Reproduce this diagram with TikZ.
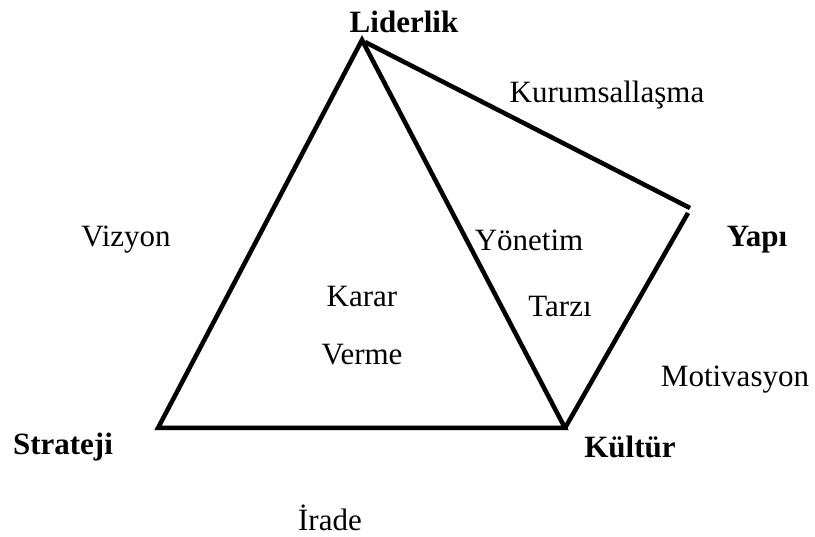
\documentclass[tikz,border=0pt]{standalone}
\usepackage{fontspec}
\setmainfont{Liberation Serif}
\begin{document}
\begin{tikzpicture}[x=1pt,y=-1pt,
    lbl/.style={font=\fontsize{31}{36}\selectfont, inner sep=0pt},
    corner/.style={lbl, font=\fontsize{31}{36}\selectfont\bfseries},
    edge/.style={line width=4.5pt, black},
    shade/.style={line width=4.5pt, black!25, opacity=0.5}]
  \useasboundingbox (0,0) rectangle (815,537);

  % corner points of the frame
  \coordinate (L)  at (362,40);
  \coordinate (L2) at (365,42);
  \coordinate (S)  at (158,428);
  \coordinate (K)  at (565,428);
  \coordinate (Y)  at (690,208);
  \coordinate (Y2) at (688,213);

  % soft shadow under the lines
  \begin{scope}[shift={(2.5,2.5)}]
    \draw[shade, line join=miter] (L) -- (S) -- (K) -- cycle;
    \draw[shade] (L2) -- (Y);
    \draw[shade] (Y2) -- (K);
  \end{scope}

  % the triangle and the quadrilateral side
  \draw[edge, line join=miter] (L) -- (S) -- (K) -- cycle;
  \draw[edge] (L2) -- (Y);
  \draw[edge] (Y2) -- (K);

  % corner labels
  \node[corner] (liderlik) at (404,22)  {Liderlik};
  \node[corner] (yapi)     at (757,240) {Yapı};
  \node[corner] (strateji) at (63,447)  {Strateji};
  \node[corner] (kultur)   at (630,447) {Kültür};

  % inner labels
  \node[lbl] (kurum)  at (607,95)  {Kurumsallaşma};
  \node[lbl] (vizyon) at (126,240) {Vizyon};
  \node[lbl] (yonetim) at (529,240) {Yönetim};
  \node[lbl] (karar)  at (362,297) {Karar};
  \node[lbl] (tarzi)  at (560,307) {Tarzı};
  \node[lbl] (verme)  at (362,355) {Verme};
  \node[lbl] (motiv)  at (735,380) {Motivasyon};
  \node[lbl] (irade)  at (330,518) {İrade};
\end{tikzpicture}
\end{document}
